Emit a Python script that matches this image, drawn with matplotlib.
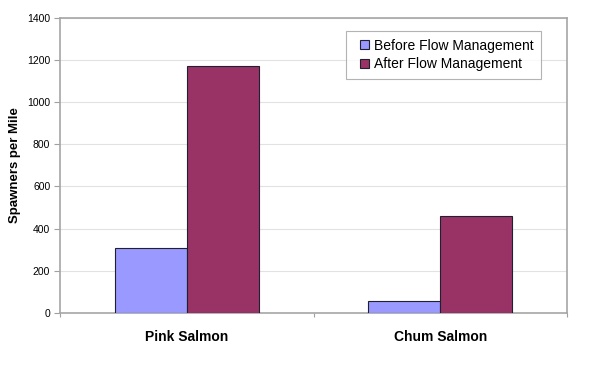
import matplotlib.pyplot as plt
import matplotlib.patches as mpatches
from matplotlib.container import BarContainer
from matplotlib.legend_handler import HandlerPatch
import numpy as np

# Data
species = ['Pink Salmon', 'Chum Salmon']
before_flow = [310, 57]
after_flow = [1170, 462]

plt.rcParams['font.family'] = ['Liberation Sans', 'DejaVu Sans']

fig = plt.figure(figsize=(6, 3.91), dpi=100)
ax = fig.add_axes([0.1, 0.1995, 0.845, 0.755])

x = np.arange(len(species))
w = 0.285
ax.bar(x - w / 2, before_flow, w, color='#9999FF', edgecolor='#202030',
       linewidth=0.8, label='Before Flow Management', zorder=3)
ax.bar(x + w / 2, after_flow, w, color='#993366', edgecolor='#202030',
       linewidth=0.8, label='After Flow Management', zorder=3)

ax.set_xlim(-0.5, 1.5)
ax.set_ylim(0, 1400)
ax.set_yticks(range(0, 1401, 200))
ax.yaxis.grid(True, color='#E2E2E2', linewidth=0.8, zorder=0)

ax.set_xticks([-0.5, 0.5, 1.5])
ax.set_xticklabels([])
ax.set_xticks(x, minor=True)
ax.set_xticklabels(species, minor=True, fontsize=10, fontweight='bold')
ax.tick_params(axis='x', which='minor', length=0, pad=12)
ax.tick_params(axis='x', which='major', length=3, color='#A0A0A0', direction='out')
ax.tick_params(axis='y', length=4, color='#A0A0A0', labelsize=7.5, pad=3)

for s in ax.spines.values():
    s.set_color('#A6A6A6')
    s.set_linewidth(1.2)

ax.set_ylabel('Spawners per Mile', fontsize=9.5, fontweight='bold', labelpad=4)


# small square legend key sitting at the right of its handle box
def small_square(legend, orig_handle, xdescent, ydescent, width, height, fontsize):
    s = height
    return mpatches.Rectangle((width - s - xdescent, -ydescent), s, s)


def copy_style(handle, orig):
    handle.update_from(orig.patches[0])


leg = ax.legend(loc='upper left', bbox_to_anchor=(0.565, 0.955), borderaxespad=0,
                fontsize=10, fancybox=False, edgecolor='#A0A0A0',
                handlelength=1.05, handleheight=0.58, handletextpad=0.35,
                labelspacing=0.32, borderpad=0.55,
                handler_map={BarContainer: HandlerPatch(patch_func=small_square,
                                                        update_func=copy_style)})
leg.get_frame().set_linewidth(0.8)

fig.savefig('out.png', dpi=100)
